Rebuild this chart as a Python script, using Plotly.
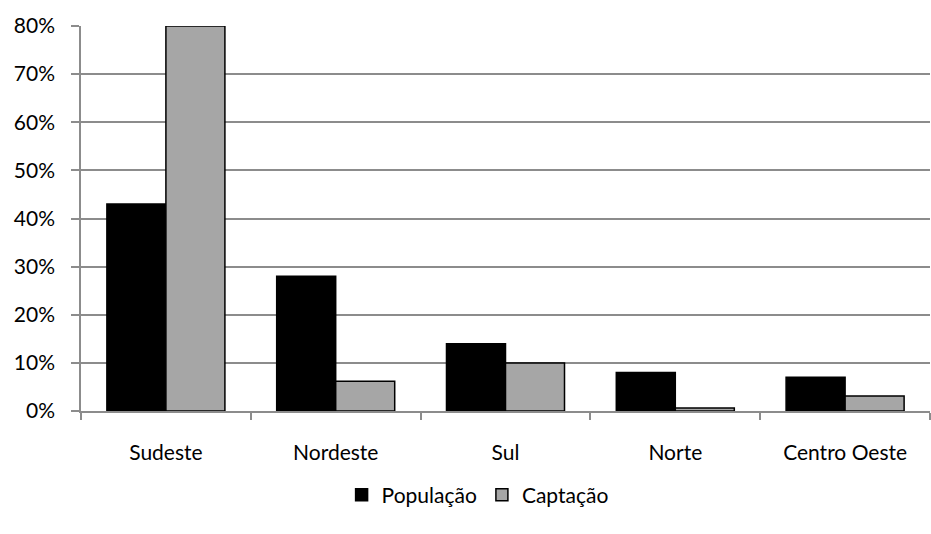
import plotly.graph_objects as go

regioes = ["Sudeste", "Nordeste", "Sul", "Norte", "Centro Oeste"]
populacao = [0.43, 0.28, 0.14, 0.08, 0.07]
captacao = [0.80, 0.062, 0.10, 0.006, 0.031]
y_ticks = [0, 0.1, 0.2, 0.3, 0.4, 0.5, 0.6, 0.7, 0.8]

FONT = "Lato"
GRID = "#8c8c8c"

x_pos = list(range(len(regioes)))

fig = go.Figure()
fig.add_trace(go.Bar(
    x=x_pos, y=populacao, name="População",
    marker=dict(color="#000000", line=dict(color="#000000", width=1.5)),
))
fig.add_trace(go.Bar(
    x=x_pos, y=captacao, name="Captação",
    marker=dict(color="#a6a6a6", line=dict(color="#000000", width=1.5)),
))

fig.update_layout(
    width=931, height=534,
    margin=dict(l=81, r=1, t=26, b=123),
    paper_bgcolor="white", plot_bgcolor="white",
    barmode="group", bargap=0.305, bargroupgap=0,
    font=dict(family=FONT, size=21, color="#000000"),
    showlegend=True,
    legend=dict(
        orientation="h", xref="container", yref="container",
        x=0.513, xanchor="center", y=0.073, yanchor="middle",
        font=dict(size=21), itemwidth=30, traceorder="normal",
    ),
    xaxis=dict(
        range=[-0.5, len(regioes) - 0.5],
        tickvals=x_pos, ticktext=regioes, ticks="",
        showgrid=False, zeroline=False,
        showline=True, linecolor=GRID, linewidth=1.5,
        ticklabelstandoff=22,
        minor=dict(tick0=-0.5, dtick=1, ticks="outside", ticklen=7,
                   tickcolor=GRID, tickwidth=1.5, showgrid=False),
    ),
    yaxis=dict(
        range=[0, 0.8], tickvals=y_ticks, tickformat=".0%",
        showgrid=True, gridcolor=GRID, gridwidth=1.5,
        zeroline=False, showline=True, linecolor=GRID, linewidth=1.5,
        ticks="outside", ticklen=8, tickcolor=GRID, tickwidth=1.5,
        ticklabelstandoff=12,
    ),
)

fig.write_html("out.html")
